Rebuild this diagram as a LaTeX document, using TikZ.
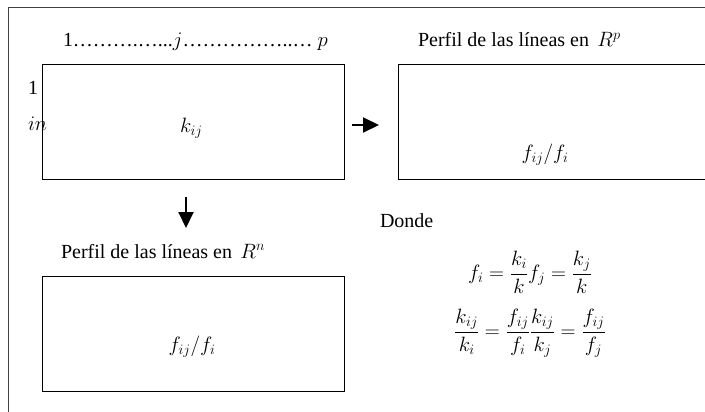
\documentclass[tikz,border=0pt]{standalone}
\usepackage{fontspec}
\setmainfont{Liberation Serif}
\usetikzlibrary{arrows.meta}
\tikzset{
  panel/.style={draw=black, line width=0.9pt},
  frameline/.style={draw=black!75, line width=1pt},
  txt/.style={inner sep=0pt, outer sep=0pt, font=\fontsize{20}{24}\selectfont},
  bigarrow/.style={line width=2pt, -{Triangle[length=16pt,width=15pt]}}
}
\begin{document}
\begin{tikzpicture}[x=1pt,y=-1pt]
\useasboundingbox (0,0) rectangle (705,412);
\clip (0,0) rectangle (705,412);
% outer frame (only top and left visible)
\draw[frameline] (8,430) -- (8,8) -- (720,8);
% boxes
\node[panel, minimum width=302pt, minimum height=115pt, anchor=north west, inner sep=0pt] (box1) at (42,64) {};
\node[panel, minimum width=320pt, minimum height=115pt, anchor=north west, inner sep=0pt] (box2) at (398,64) {};
\node[panel, minimum width=302pt, minimum height=115pt, anchor=north west, inner sep=0pt] (box3) at (42,276) {};
% texts
\node[txt, anchor=base west] (top) at (63,47) {1……….…...$j$……………..… $p$};
\node[txt, anchor=base west] (one) at (28,95) {1};
\node[txt, anchor=base west] (in) at (28,131) {$in$};
\node[txt, anchor=base west] (kij) at (180,132) {$k_{ij}$};
\node[txt, anchor=base west] (titp) at (418,47) {Perfil de las líneas en\, $R^p$};
\node[txt] (fp) at (545,155) {$f_{ij}/f_i$};
\node[txt, anchor=base west] (titn) at (61,258) {Perfil de las líneas en\, $R^n$};
\node[txt] (fn) at (192,347) {$f_{ij}/f_i$};
\node[txt, anchor=base west] (donde) at (380,227) {Donde};
\node[txt] (eqa) at (530,272) {$\displaystyle f_i=\frac{k_i}{k}f_j=\frac{k_j}{k}$};
\node[txt] (eqb) at (530,333) {$\displaystyle \frac{k_{ij}}{k_i}=\frac{f_{ij}}{f_i}\frac{k_{ij}}{k_j}=\frac{f_{ij}}{f_j}$};
% arrows
\coordinate (ra) at (352,125);
\coordinate (rb) at (379,125);
\coordinate (da) at (186,197);
\coordinate (db) at (186,228);
\draw[bigarrow] (ra) -- (rb);
\draw[bigarrow] (da) -- (db);
\end{tikzpicture}
\end{document}
